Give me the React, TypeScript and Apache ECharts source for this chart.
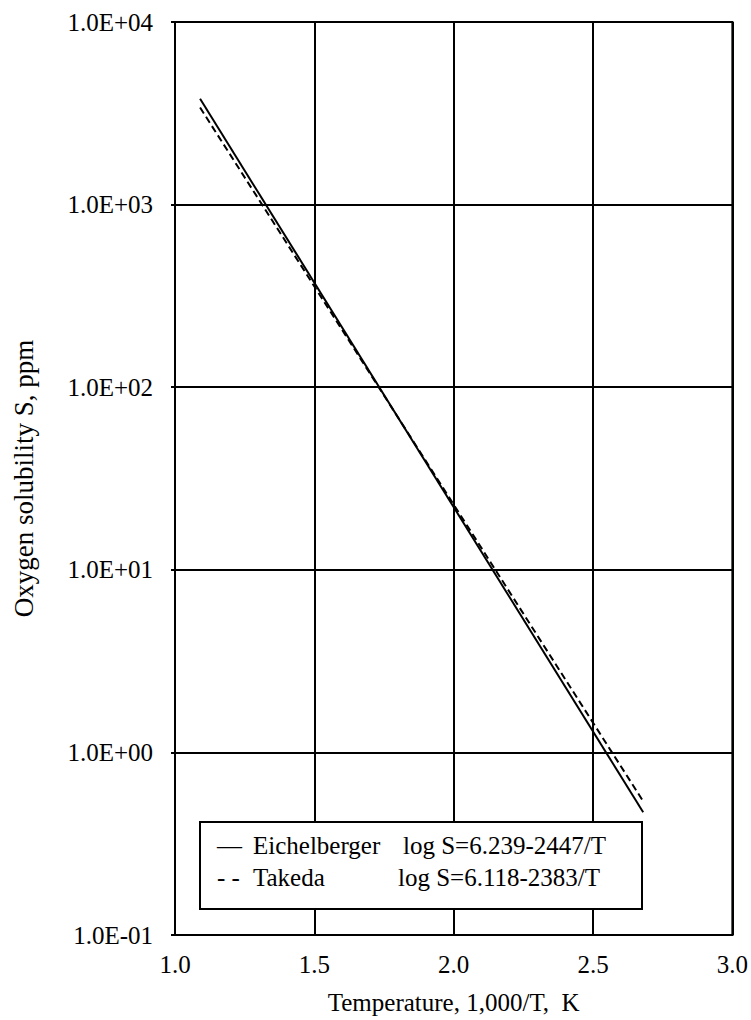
import React, { useEffect, useRef } from "react";
import * as echarts from "echarts";

// Reciprocal temperature, 1000/T (K^-1), at the two ends of each fitted line
const invTemperature = [1.09, 2.68];
// Oxygen solubility S (ppm) at those ends
const eichelberger = [3800, 0.47];
const takeda = [3400, 0.54];

// Axis tick labels
const xTickLabels = ["1.0", "1.5", "2.0", "2.5", "3.0"];
const yTickLabels = ["1.0E-01", "1.0E+00", "1.0E+01", "1.0E+02", "1.0E+03", "1.0E+04"];

// Legend rows: symbol, author, fitted equation
const legendRows = [
  { symbol: "\u2014", name: "Eichelberger", formula: "log S=6.239-2447/T" },
  { symbol: "- -", name: "Takeda", formula: "log S=6.118-2383/T" },
];

const FONT = "Liberation Serif";

export default function App() {
  const ref = useRef<HTMLDivElement>(null);

  useEffect(() => {
    if (!ref.current) return;
    const chart = echarts.init(ref.current, null, { renderer: "svg" });

    const symbolX = 217;
    const nameX = 253;
    const formulaX = [403, 398];
    const rowY = [845, 877];

    const textStyle = (text: string) => ({
      text,
      fontFamily: FONT,
      fontSize: 25,
      fill: "#000",
      verticalAlign: "middle",
    });

    const legendTexts: any[] = [];
    legendRows.forEach((row, i) => {
      legendTexts.push(
        { type: "text", x: symbolX, y: rowY[i], z: 101, style: textStyle(row.symbol) },
        { type: "text", x: nameX, y: rowY[i], z: 101, style: textStyle(row.name) },
        { type: "text", x: formulaX[i], y: rowY[i], z: 101, style: textStyle(row.formula) }
      );
    });

    chart.setOption({
      animation: false,
      backgroundColor: "#fff",
      textStyle: { fontFamily: FONT },
      grid: {
        left: 175,
        top: 22,
        right: 18,
        bottom: 83,
        show: true,
        borderColor: "#000",
        borderWidth: 2,
        backgroundColor: "#fff",
      },
      xAxis: {
        type: "value",
        min: 1,
        max: 3,
        interval: 0.5,
        name: "Temperature, 1,000/T,  K",
        nameLocation: "middle",
        nameGap: 55,
        nameTextStyle: { fontFamily: FONT, fontSize: 25, color: "#000" },
        axisLine: { show: true, lineStyle: { color: "#000", width: 2 } },
        axisTick: { show: false },
        axisLabel: {
          margin: 17,
          fontFamily: FONT,
          fontSize: 25,
          color: "#000",
          formatter: (_v: number, i: number) => xTickLabels[i],
        },
        splitLine: { show: true, lineStyle: { color: "#000", width: 2 } },
      },
      yAxis: {
        type: "log",
        logBase: 10,
        min: 0.1,
        max: 10000,
        name: "Oxygen solubility S, ppm",
        nameLocation: "middle",
        nameGap: 138,
        nameRotate: 90,
        nameTextStyle: { fontFamily: FONT, fontSize: 27, color: "#000" },
        axisLine: { show: true, lineStyle: { color: "#000", width: 2 } },
        axisTick: { show: true, length: 4, lineStyle: { color: "#000", width: 2 } },
        axisLabel: {
          margin: 22,
          fontFamily: FONT,
          fontSize: 25,
          color: "#000",
          formatter: (_v: number, i: number) => yTickLabels[i],
        },
        splitLine: { show: true, lineStyle: { color: "#000", width: 2 } },
      },
      series: [
        {
          name: "Eichelberger",
          type: "line",
          symbol: "none",
          data: invTemperature.map((x, i) => [x, eichelberger[i]]),
          lineStyle: { color: "#000", width: 2, type: "solid" },
          z: 3,
        },
        {
          name: "Takeda",
          type: "line",
          symbol: "none",
          data: invTemperature.map((x, i) => [x, takeda[i]]),
          lineStyle: { color: "#000", width: 2, type: [7, 4] },
          z: 2,
        },
      ],
      graphic: [
        {
          type: "rect",
          z: 100,
          shape: { x: 200, y: 822, width: 442, height: 87 },
          style: { fill: "#fff", stroke: "#000", lineWidth: 2 },
        },
        ...legendTexts,
      ],
    });

    return () => chart.dispose();
  }, []);

  return (
    <div
      ref={ref}
      style={{ position: "fixed", left: 0, top: 0, width: 751, height: 1020, background: "#fff" }}
    />
  );
}
